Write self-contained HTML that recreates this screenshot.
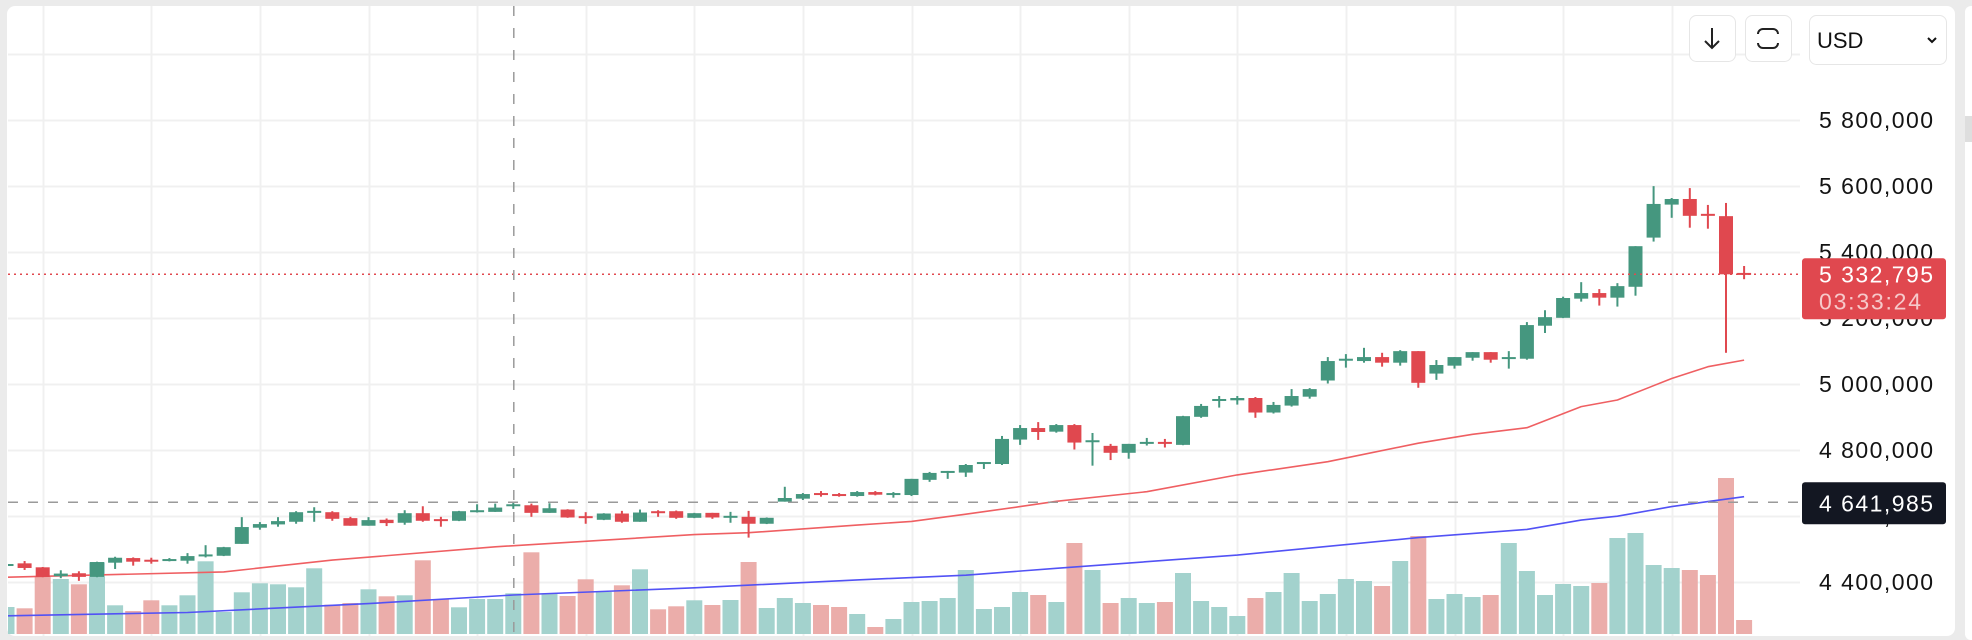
<!DOCTYPE html>
<html><head><meta charset="utf-8"><style>
html,body{margin:0;padding:0;background:#ebebeb;}
svg{display:block;font-family:"Liberation Sans",sans-serif;}
</style></head><body>
<svg id="chart" width="1972" height="640" viewBox="0 0 1972 640" xmlns="http://www.w3.org/2000/svg">
<rect x="0" y="0" width="1972" height="640" fill="#ebebeb"/>
<rect x="7" y="6" width="1948" height="630" rx="8" fill="#ffffff"/>
<rect x="1965" y="6" width="20" height="634" rx="6" fill="#ffffff"/>
<rect x="1965" y="116" width="10" height="26" fill="#dedede"/>
<defs><clipPath id="plotClip"><rect x="8" y="6" width="1792" height="630"/></clipPath></defs>
<g id="grid"></g>
<g id="plot" clip-path="url(#plotClip)">
<g id="vol"></g>
<g id="mas"></g>
<g id="candles"></g>
<g id="lines"></g>
</g>
<g id="axis"></g>
<g>
<rect x="1689.5" y="15.5" width="46" height="46" rx="7" fill="#fff" stroke="#e6e6e6"/>
<path d="M1712 28 V48 M1705 41 L1712 48 L1719 41" stroke="#222" stroke-width="2" fill="none"/>
</g>
<g>
<rect x="1745.5" y="15.5" width="46" height="46" rx="7" fill="#fff" stroke="#e6e6e6"/>
<rect x="1758" y="29" width="20" height="19" rx="5" fill="none" stroke="#222" stroke-width="2"/>
<rect x="1755" y="34" width="26" height="9" fill="#fff"/>
</g>
<g>
<rect x="1809.5" y="15.5" width="137" height="49" rx="7" fill="#fff" stroke="#e6e6e6"/>
<text x="1817" y="48" font-size="22" fill="#111">USD</text>
<path d="M1928 38 L1932 42 L1936 38" stroke="#111" stroke-width="2" fill="none"/>
</g>
</svg>
<script>
const opens=[4450,4457,4445,4418,4427,4416,4459,4473,4468,4465,4465,4479,4480,4516,4565,4575,4583,4612,4612,4594,4571,4589,4580,4609,4591,4586,4613,4613,4631,4633,4610,4620,4600,4589,4608,4583,4615,4615,4595,4610,4596,4598,4577,4644,4653,4670,4667,4661,4673,4665,4664,4710,4731,4732,4758,4758,4832,4867,4856,4876,4826,4813,4792,4820,4825,4816,4901,4950,4951,4958,4914,4935,4962,5011,5071,5070,5082,5065,5100,5032,5056,5080,5097,5077,5077,5177,5201,5259,5276,5262,5295,5444,5544,5561,5516,5509,5337];
const highs=[4457,4464,4446,4436,4433,4462,4477,4475,4474,4473,4488,4512,4507,4597,4582,4597,4615,4627,4615,4598,4597,4593,4618,4630,4598,4616,4636,4638,4643,4638,4639,4621,4612,4609,4616,4620,4618,4617,4610,4610,4613,4616,4596,4689,4670,4676,4670,4676,4676,4673,4713,4734,4737,4758,4764,4843,4876,4885,4879,4879,4852,4819,4819,4837,4834,4904,4940,4964,4964,4961,4946,4985,4988,5082,5091,5110,5095,5103,5100,5073,5082,5097,5097,5100,5188,5224,5265,5309,5288,5306,5418,5600,5564,5594,5543,5549,5358];
const lows=[4448,4437,4415,4412,4404,4415,4440,4450,4456,4463,4456,4475,4479,4516,4559,4568,4577,4583,4586,4571,4571,4570,4574,4583,4568,4585,4611,4613,4622,4598,4610,4595,4577,4588,4580,4583,4598,4592,4594,4592,4580,4535,4576,4644,4649,4659,4659,4659,4663,4656,4661,4704,4713,4719,4743,4755,4816,4831,4853,4802,4753,4770,4774,4814,4808,4815,4898,4929,4938,4898,4911,4932,4956,5002,5050,5065,5053,5056,4989,5013,5047,5071,5065,5047,5074,5155,5200,5250,5238,5235,5268,5432,5504,5474,5471,5095,5318];
const closes=[4455,4443,4416,4426,4416,4461,4474,4462,4462,4470,4479,4484,4506,4567,4576,4585,4612,4616,4592,4571,4588,4579,4609,4586,4587,4615,4618,4626,4636,4610,4624,4596,4595,4608,4583,4611,4610,4595,4609,4596,4601,4577,4595,4655,4667,4664,4661,4673,4665,4670,4713,4731,4737,4755,4764,4834,4867,4855,4876,4823,4830,4792,4819,4825,4820,4903,4934,4955,4958,4914,4937,4964,4985,5070,5077,5082,5065,5100,5004,5058,5082,5097,5074,5082,5179,5203,5261,5276,5262,5297,5418,5546,5561,5510,5510,5332.795,5332.795];
const volumes=[270,257,580,550,497,717,287,230,337,287,387,727,220,417,507,497,467,657,293,310,447,377,387,737,347,267,350,350,407,817,407,380,547,420,487,647,247,277,337,290,340,720,260,360,310,290,270,200,70,150,320,330,360,640,250,270,420,390,320,910,640,310,360,310,320,610,330,270,180,360,420,610,330,400,550,530,480,730,980,350,400,370,390,910,630,390,500,480,510,960,1010,690,660,640,590,1560,140];
const maSlowIdx=[0,12,18,27,38,41,47,50,53,56,58,63,68,73,78,81,84,87,89,92,94,96];
const maSlowVal=[4415,4431,4467,4507,4544,4550,4573,4584,4606,4629,4645,4674,4725,4765,4821,4848,4868,4932,4952,5017,5053,5073];
const maLongIdx=[0,10,20,28,38,47,53,58,68,78,84,87,89,92,94,96];
const maLongVal=[4298,4308,4335,4361,4383,4407,4421,4442,4482,4535,4560,4588,4600,4629,4644,4659];
const priceTicks=[6000000,5800000,5600000,5400000,5200000,5000000,4800000,4600000,4400000];
const tickLabels=["6 000,000","5 800,000","5 600,000","5 400,000","5 200,000","5 000,000","4 800,000","4 600,000","4 400,000"];
const crosshairIndex=28;
const crosshairPrice=4641985;
const lastPriceLabel="5 332,795";
const countdownLabel="03:33:24";
const crosshairLabel="4 641,985";

const NS="http://www.w3.org/2000/svg";
const X0=6.5, STEP=18.1;
function xScale(i){return X0+STEP*i;}
function yScale(pk){return 502.3-(pk*1000-4641985)/3030;}
function yPrice(p){return 502.3-(p-4641985)/3030;}
const VOL_BOTTOM=634, VOL_H=156;
const maxVol=Math.max(...volumes);
function volScale(v){return v/maxVol*VOL_H;}
function mk(tag,attrs,parent){const e=document.createElementNS(NS,tag);for(const k in attrs)e.setAttribute(k,attrs[k]);parent.appendChild(e);return e;}
const UP="#45977f", DOWN="#e0484f", UPV="#a3d2cd", DOWNV="#ebadaa";

const grid=document.getElementById('grid');
priceTicks.forEach((t,k)=>{
  const y=Math.round(yPrice(t))+0.5;
  const l=mk('line',{x1:8,x2:1800,y1:y,y2:y,stroke:'#f0f0f0','stroke-width':2},grid);
  
  
});
for(let i=2;i<97;i+=6){
  const x=Math.round(xScale(i))+0.5;
  const l=mk('line',{x1:x,x2:x,y1:6,y2:636,stroke:'#f0f0f0','stroke-width':2},grid);
  
  
}

const vol=document.getElementById('vol');
volumes.forEach((v,i)=>{
  const h=volScale(v);
  const r=mk('rect',{x:xScale(i)-8,y:VOL_BOTTOM-h,width:16,height:h,fill:closes[i]>=opens[i]?UPV:DOWNV},vol);
  
  
});

const mas=document.getElementById('mas');
function poly(idx,val,color,name){
  const pts=idx.map((i,k)=>xScale(i).toFixed(1)+','+yScale(val[k]).toFixed(1)).join(' ');
  const p=mk('polyline',{points:pts,fill:'none',stroke:color,'stroke-width':1.6,'stroke-linejoin':'round'},mas);
  
  
}
poly(maSlowIdx,maSlowVal,'#ef5f62','moving-average-red');
poly(maLongIdx,maLongVal,'#5252f5','moving-average-blue');

const cg=document.getElementById('candles');
opens.forEach((o,i)=>{
  const c=closes[i], up=c>=o, col=up?UP:DOWN, x=xScale(i);
  const g=mk('g',{},cg);
  
  
  mk('rect',{x:x-1,y:yScale(highs[i]),width:2,height:Math.max(1,yScale(lows[i])-yScale(highs[i])),fill:col},g);
  const top=yScale(Math.max(o,c)), bot=yScale(Math.min(o,c));
  mk('rect',{x:x-7,y:top,width:14,height:Math.max(2,bot-top),fill:col},g);
});

const lines=document.getElementById('lines');
const lastY=yScale(closes[closes.length-1]);
const pl=mk('line',{x1:8,x2:1800,y1:lastY,y2:lastY,stroke:DOWN,'stroke-width':1.5,'stroke-dasharray':'2 4'},lines);


const cy=yPrice(crosshairPrice);
const ch=mk('line',{x1:8,x2:1800,y1:cy,y2:cy,stroke:'#9a9a9a','stroke-width':1.5,'stroke-dasharray':'10 10'},lines);


const cxv=xScale(crosshairIndex)+0.5;
const cv=mk('line',{x1:cxv,x2:cxv,y1:6,y2:636,stroke:'#9a9a9a','stroke-width':1.5,'stroke-dasharray':'10 12'},lines);



const axis=document.getElementById('axis');
priceTicks.forEach((t,k)=>{
  const y=yPrice(t);
  if(y<90) return;
  const tx=mk('text',{x:1933,y:y+8,'font-size':23,fill:'#131313','text-anchor':'end',textLength:114,lengthAdjust:'spacing'},axis);
  tx.textContent=tickLabels[k];
  
  
});
const lb=mk('g',{},axis);


mk('rect',{x:1802,y:lastY-16,width:144,height:61,rx:3,fill:DOWN},lb);
const t1=mk('text',{x:1819,y:lastY+8,'font-size':23,fill:'#fff',textLength:114,lengthAdjust:'spacing'},lb);
t1.textContent=lastPriceLabel;
const t2=mk('text',{x:1819,y:lastY+35,'font-size':23,fill:'#f6c9ca',textLength:102,lengthAdjust:'spacing'},lb);
t2.textContent=countdownLabel;
const cb=mk('g',{},axis);


mk('rect',{x:1802,y:cy-20,width:144,height:42,rx:3,fill:'#131722'},cb);
const t3=mk('text',{x:1819,y:cy+9,'font-size':23,fill:'#fff',textLength:114,lengthAdjust:'spacing'},cb);
t3.textContent=crosshairLabel;
</script>
</body></html>
